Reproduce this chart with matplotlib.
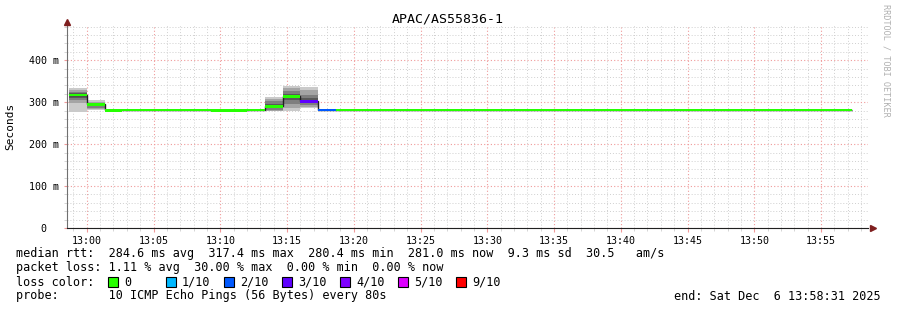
"""
SmokePing style latency graph: APAC/AS55836-1, last hour
"""
import matplotlib
matplotlib.use("Agg")
import matplotlib.pyplot as plt
import matplotlib.ticker as mticker
from matplotlib.patches import Rectangle
import numpy as np

plt.rcParams['font.family'] = ['DejaVu Sans Mono', 'DejaVu Sans']

TITLE = "APAC/AS55836-1"

# steps of 80 s, first one starts 12:58:40 (minutes relative to 13:00)
STEP_MIN = 80 / 60
FIRST_STEP = -1
X_LEFT, X_RIGHT = -1.483, 58.517      # 12:58:31 .. 13:58:31

# median rtt per step (ms)
MEDIAN = [317.4, 294.5, 280.4,
          281.3, 281.3, 281.3, 281.3, 281.3,
          280.6, 280.6, 281.3,
          290.0, 314.0, 302.0, 281.2,
          281.3, 281.3, 281.3, 281.3, 281.3, 281.3, 281.3, 281.3, 281.3, 281.3,
          281.8, 281.8,
          280.9, 280.9, 280.9, 280.9, 280.9, 280.9, 280.9, 280.9,
          281.7, 281.7, 281.7,
          280.9, 281.7, 280.9, 281.7, 280.9, 281.0]

# lost pings out of 10 per step
LOSS = [0, 0, 0,
        0, 0, 0, 0, 0,
        0, 0, 0,
        0, 0, 3, 2,
        0, 0, 0, 0, 0, 0, 0, 0, 0, 0,
        0, 0,
        0, 0, 0, 0, 0, 0, 0, 0,
        0, 0, 0,
        0, 0, 0, 0, 0, 0]

# sorted ping rtts (ms) for the steps with visible smoke
SMOKE_STEPS = [-1, 0, 10, 11, 12]
SMOKE_PINGS = [
    [277, 298, 304, 311, 316, 318, 321, 324, 329, 333],
    [281, 284, 287, 290, 293, 296, 297, 299, 301, 304],
    [278, 280, 282, 285, 288, 292, 296, 302, 307, 313],
    [279, 287, 295, 304, 311, 316, 320, 327, 334, 339],
    [286, 289, 294, 297, 300, 304, 309, 318, 328, 335],
]

LOSS_KEYS = [0, 1, 2, 3, 4, 5, 9]
LOSS_LABELS = ["0", "1/10", "2/10", "3/10", "4/10", "5/10", "9/10"]
LOSS_COLORS = ["#26ff00", "#00b8ff", "#0059ff", "#5e00ff", "#7e00ff", "#dd00ff", "#ff0000"]

LEGEND_LINES = [
    "median rtt:  284.6 ms avg  317.4 ms max  280.4 ms min  281.0 ms now  9.3 ms sd  30.5   am/s",
    "packet loss: 1.11 % avg  30.00 % max  0.00 % min  0.00 % now",
    "loss color:",
    "probe:       10 ICMP Echo Pings (56 Bytes) every 80s",
]
END_TEXT = "end: Sat Dec  6 13:58:31 2025"

W_PX, H_PX = 897, 310
ARROW = "#7f1f1f"
MGRID = "#f09a9a"
GRID = "#cfcfcf"


def px(x, y):
    return x / W_PX, 1 - y / H_PX


fig = plt.figure(figsize=(W_PX / 100, H_PX / 100), dpi=100)
fig.patch.set_facecolor("white")
ax = fig.add_axes([67 / W_PX, (H_PX - 228) / H_PX, (868 - 67) / W_PX, (228 - 25) / H_PX])
ax.set_facecolor("white")

ax.set_xlim(X_LEFT, X_RIGHT)
ax.set_ylim(0, 484)

# ── grid ──
ax.xaxis.set_major_locator(mticker.MultipleLocator(5))
ax.xaxis.set_minor_locator(mticker.MultipleLocator(1))
ax.yaxis.set_major_locator(mticker.MultipleLocator(100))
ax.yaxis.set_minor_locator(mticker.MultipleLocator(20))
ax.grid(which="minor", color=GRID, linestyle=(0, (1, 2)), linewidth=0.7)
ax.grid(which="major", color=MGRID, linestyle=(0, (1, 2)), linewidth=0.8)
ax.set_axisbelow(True)

starts = (np.arange(len(MEDIAN)) + FIRST_STEP) * STEP_MIN
med = np.array(MEDIAN)

# ── smoke: pairs of sorted pings, darker towards the median ──
half = 5
for i in range(1, half + 1):
    shade = int(190 / half * (half - i)) + 50
    col = "#{0:02x}{0:02x}{0:02x}".format(shade)
    for step, pings in zip(SMOKE_STEPS, SMOKE_PINGS):
        lo, hi = pings[i - 1], pings[-i]
        ax.bar(step * STEP_MIN, hi - lo, bottom=lo, width=STEP_MIN, align="edge",
               color=col, linewidth=0, zorder=2)

# ── median line + loss coloured bars ──
edges = np.append(starts, starts[-1] + STEP_MIN)
ax.stairs(med, edges, baseline=None, color="#202020", linewidth=1.0, zorder=3)
sw = 3.0
loss = np.array(LOSS)
for key, col in zip(LOSS_KEYS, LOSS_COLORS):
    sel = loss == key
    if sel.any():
        ax.bar(starts[sel], 2 * sw, bottom=med[sel] - sw, width=STEP_MIN, align="edge",
               color=col, linewidth=0, zorder=4)

# ── axes styling ──
for s in ["top", "right"]:
    ax.spines[s].set_visible(False)
ax.spines["left"].set_color("#707070")
ax.spines["bottom"].set_color("#202020")
ax.tick_params(which="major", axis="x", length=3, color=MGRID, labelsize=7.2, pad=3)
ax.tick_params(which="minor", axis="x", length=2, color=GRID)
ax.tick_params(which="major", axis="y", length=2, color=MGRID, labelsize=7.2, pad=4)
ax.tick_params(which="minor", axis="y", length=2, color=GRID)
ax.xaxis.set_major_formatter(mticker.FuncFormatter(lambda v, p: f"13:{int(round(v)):02d}"))
ax.yaxis.set_major_formatter(mticker.FuncFormatter(
    lambda v, p: "0  " if v == 0 else f"{int(v)} m"))
ax.set_ylabel("Seconds", fontsize=8, labelpad=10)

# arrows at axis ends
ax.plot([0], [1.015], marker="^", markersize=4, color=ARROW, transform=ax.transAxes,
        clip_on=False, zorder=6, linestyle="none")
ax.plot([1.006], [0], marker=">", markersize=4, color=ARROW, transform=ax.transAxes,
        clip_on=False, zorder=6, linestyle="none")

# ── title and side text ──
fig.text(*px(448, 19), TITLE, ha="center", va="center", fontsize=9.5, color="#000000")
fig.text(*px(886, 4), "RRDTOOL / TOBI OETIKER", rotation=270, ha="center", va="top",
         fontsize=6.1, color="#b0b0b0")

# ── legend block ──
line_y = [254, 268, 282, 296]
for txt, y in zip(LEGEND_LINES, line_y):
    fig.text(*px(16, y), txt, ha="left", va="center", fontsize=8.5, color="#000000")

for j, (lab, col) in enumerate(zip(LOSS_LABELS, LOSS_COLORS)):
    x0 = 108 + j * 58
    fig.add_artist(Rectangle(px(x0, 287), 10 / W_PX, 10 / H_PX, transform=fig.transFigure,
                             facecolor=col, edgecolor="#000000", linewidth=0.8))
    fig.text(*px(x0 + 16, 282), lab, ha="left", va="center", fontsize=8.5, color="#000000")

fig.text(*px(881, 296), END_TEXT, ha="right", va="center", fontsize=8.5, color="#000000")

fig.savefig("out.png", dpi=100, facecolor="white")
plt.close()
